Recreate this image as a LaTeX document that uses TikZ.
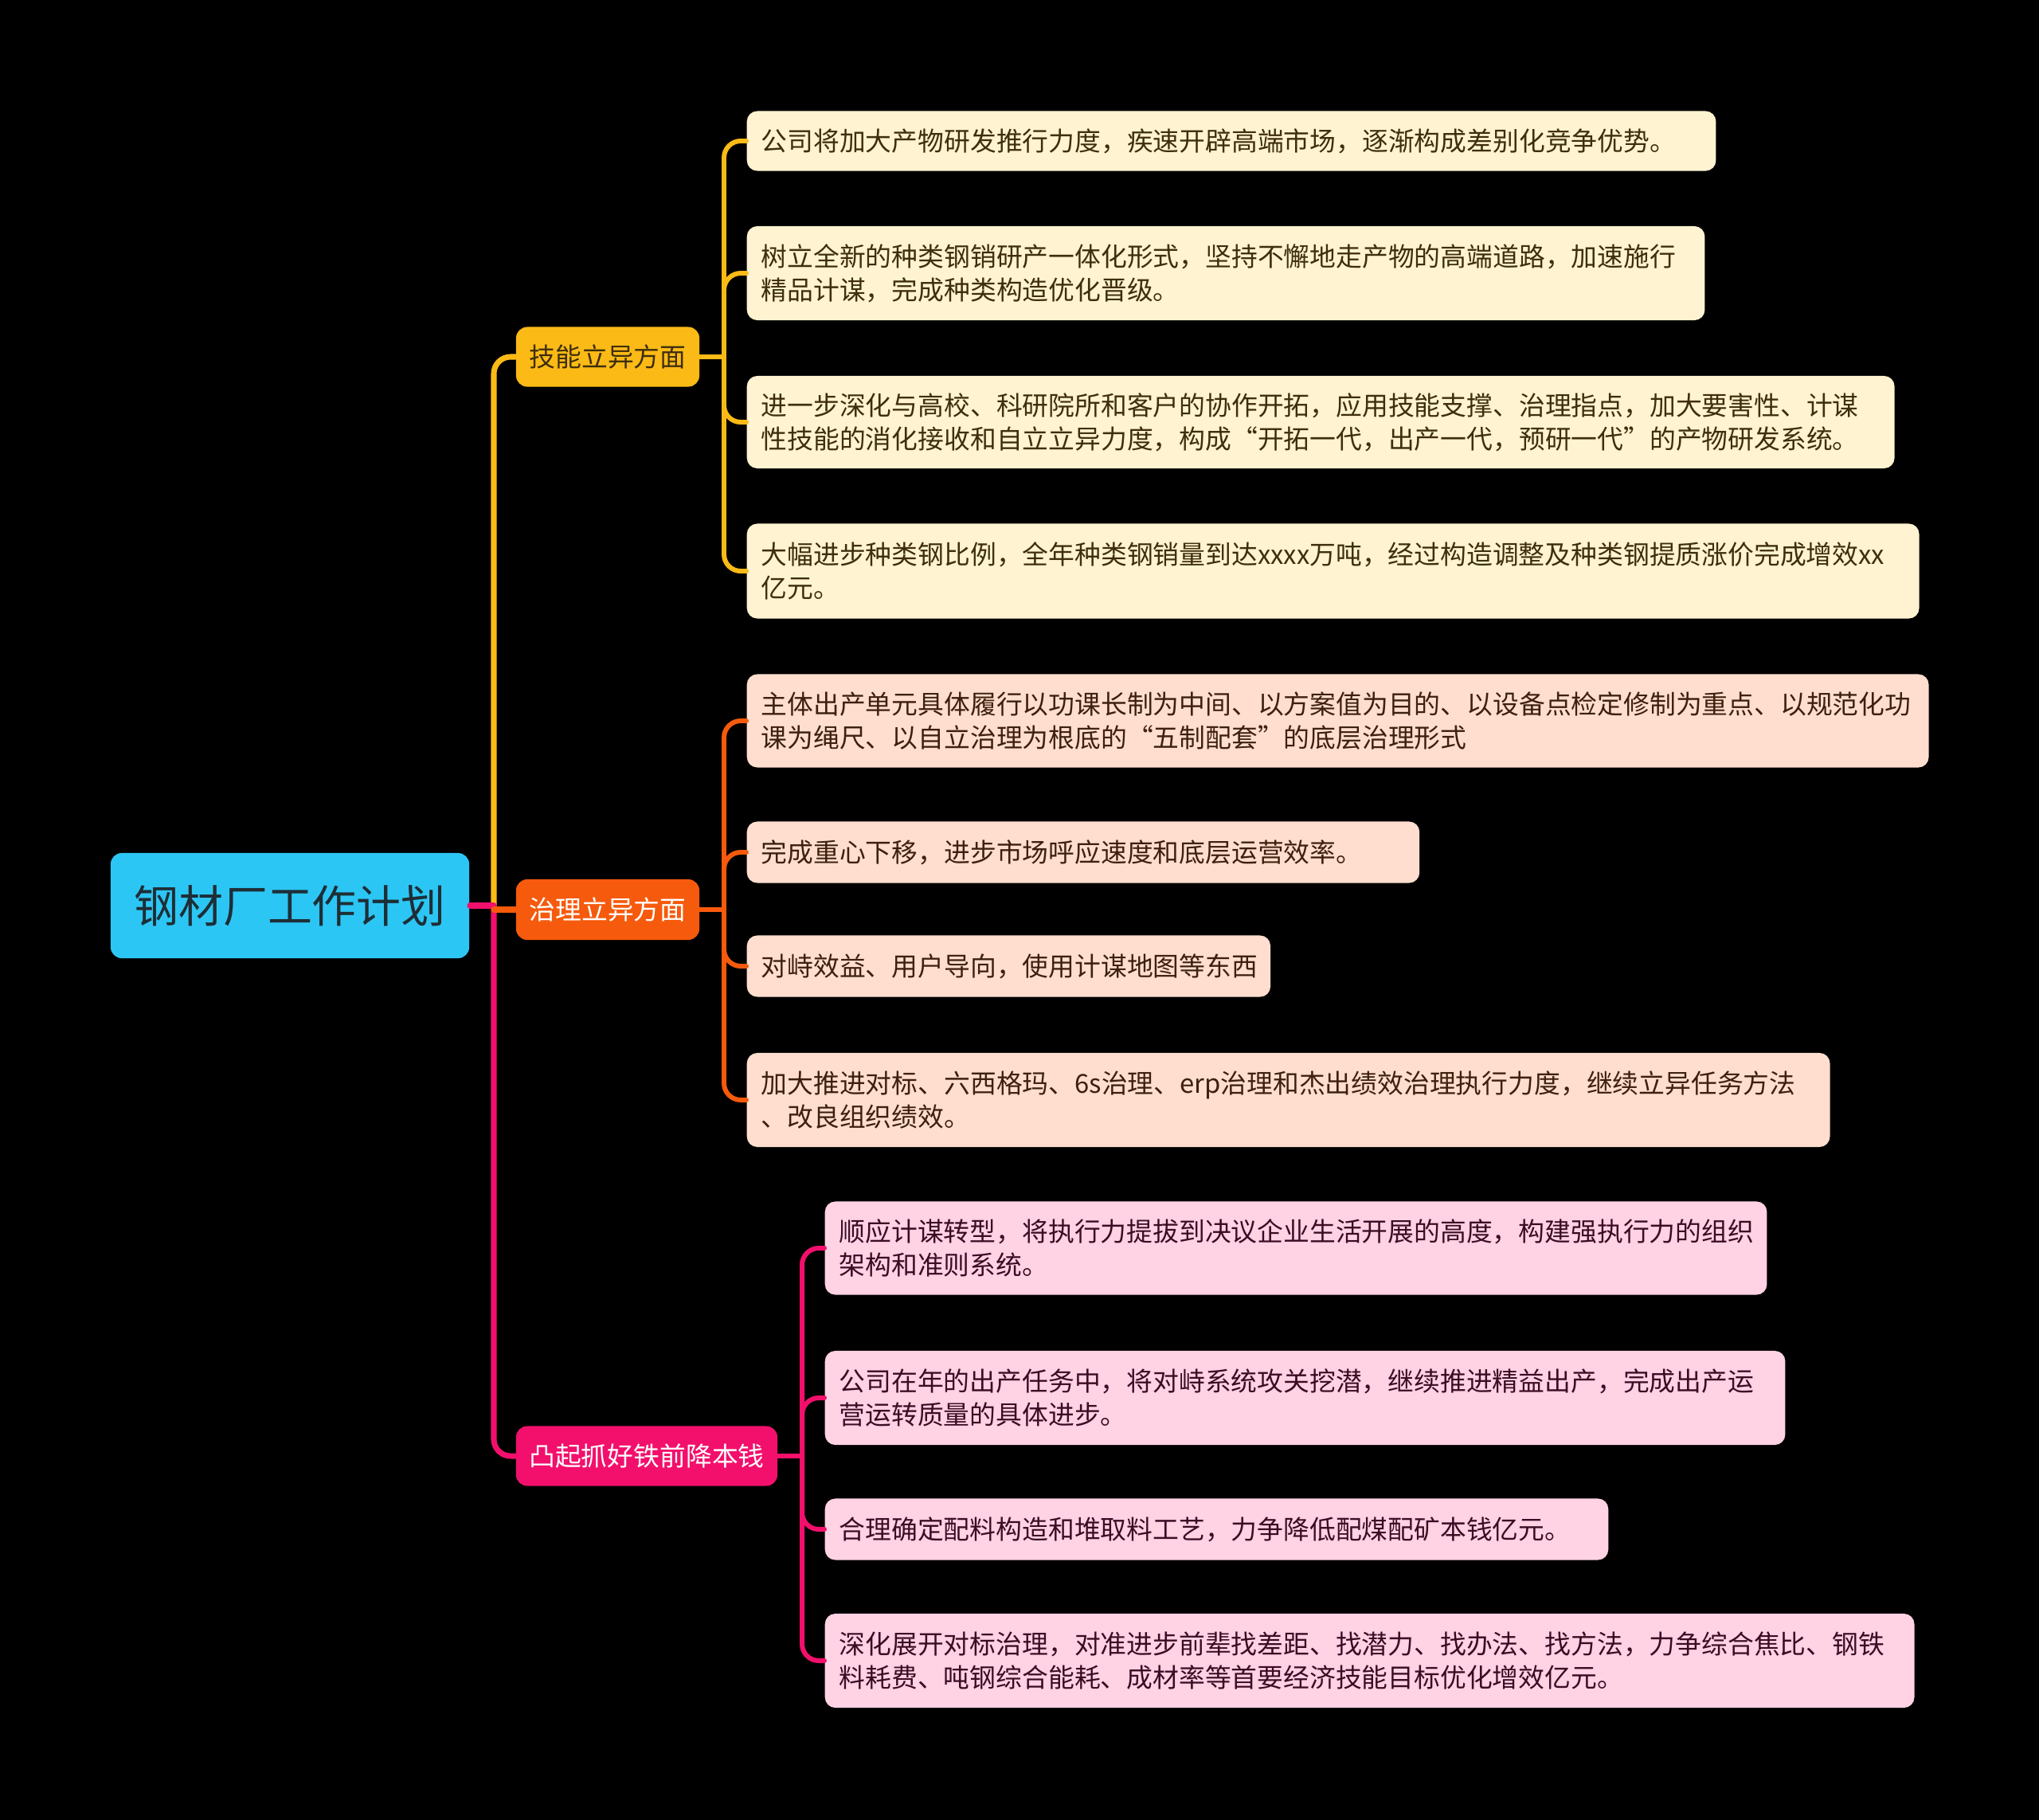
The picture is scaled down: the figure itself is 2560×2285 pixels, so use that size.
\documentclass[tikz,border=0pt]{standalone}
\usepackage{fontspec}
\setmainfont{Noto Sans CJK SC}
\definecolor{rootc}{HTML}{2CC6F4}
\definecolor{roottxt}{HTML}{1E2E36}
\definecolor{yc}{HTML}{FBBA16}
\definecolor{oc}{HTML}{F65A0C}
\definecolor{pc}{HTML}{F2106C}
\definecolor{ly}{HTML}{FFF3D1}
\definecolor{lo}{HTML}{FFDECF}
\definecolor{lp}{HTML}{FFD2E4}
\definecolor{ty}{HTML}{3E2E0C}
\definecolor{to}{HTML}{3E200E}
\definecolor{tp}{HTML}{3C0C24}
\begin{document}
\begin{tikzpicture}[x=0.01cm,y=-0.01cm,
  txt/.style={font=\fontsize{9.33pt}{11.95pt}\selectfont},
  rootbox/.style={fill=rootc,rounded corners=0.14cm,text=roottxt,minimum width=4.50cm,minimum height=1.32cm,inner sep=0pt,font=\fontsize{15.9pt}{18pt}\selectfont},
  branchbox/.style={rounded corners=0.14cm,minimum height=0.75cm,inner sep=0pt,txt},
  leafbox/.style={rounded corners=0.13cm,anchor=west,inner xsep=0.18cm,inner ysep=0pt,align=left,txt},
  ly1/.style={leafbox,fill=ly,text=ty},
  lo1/.style={leafbox,fill=lo,text=to},
  lp1/.style={leafbox,fill=lp,text=tp},
  mainline/.style={line width=2.0pt,line cap=round},
  brline/.style={line width=1.7pt,line cap=round},
  rc/.style={rounded corners=0.21cm}
]
\fill[black] (0,0) rectangle (2560,2285);
\useasboundingbox (0,0) rectangle (2560,2285);

% root and branches
\node[rootbox] (root) at (364,1137) {钢材厂工作计划};
\node[branchbox,fill=yc,text=ty,minimum width=2.30cm] (b1) at (763,448) {技能立异方面};
\node[branchbox,fill=oc,text=white,minimum width=2.30cm,minimum height=0.76cm] (b2) at (763,1142) {治理立异方面};
\node[branchbox,fill=pc,text=white,minimum width=3.28cm] (b3) at (812,1828) {凸起抓好铁前降本钱};

% leaves group 1
\node[ly1,text width=11.80cm,minimum height=0.75cm] (l1) at (937,177) {公司将加大产物研发推行力度，疾速开辟高端市场，逐渐构成差别化竞争优势。};
\node[ly1,text width=11.66cm,minimum height=1.18cm] (l2) at (937,343) {树立全新的种类钢销研产一体化形式，坚持不懈地走产物的高端道路，加速施行\\精品计谋，完成种类构造优化晋级。};
\node[ly1,text width=14.04cm,minimum height=1.16cm] (l3) at (937,530) {进一步深化与高校、科研院所和客户的协作开拓，应用技能支撑、治理指点，加大要害性、计谋\\性技能的消化接收和自立立异力度，构成“开拓一代，出产一代，预研一代”的产物研发系统。};
\node[ly1,text width=14.35cm,minimum height=1.19cm] (l4) at (937,717) {大幅进步种类钢比例，全年种类钢销量到达xxxx万吨，经过构造调整及种类钢提质涨价完成增效xx\\亿元。};

% leaves group 2
\node[lo1,text width=14.47cm,minimum height=1.17cm] (l5) at (937,905) {主体出产单元具体履行以功课长制为中间、以方案值为目的、以设备点检定修制为重点、以规范化功\\课为绳尺、以自立治理为根底的“五制配套”的底层治理形式};
\node[lo1,text width=8.08cm,minimum height=0.77cm] (l6) at (937,1070) {完成重心下移，进步市场呼应速度和底层运营效率。};
\node[lo1,text width=6.21cm,minimum height=0.77cm] (l7) at (937,1213) {对峙效益、用户导向，使用计谋地图等东西};
\node[lo1,text width=13.23cm,minimum height=1.18cm] (l8) at (937,1381) {加大推进对标、六西格玛、6s治理、erp治理和杰出绩效治理执行力度，继续立异任务方法\\、改良组织绩效。};

% leaves group 3
\node[lp1,text width=11.46cm,minimum height=1.17cm] (l9) at (1035,1567) {顺应计谋转型，将执行力提拔到决议企业生活开展的高度，构建强执行力的组织\\架构和准则系统。};
\node[lp1,text width=11.69cm,minimum height=1.18cm] (l10) at (1035,1755) {公司在年的出产任务中，将对峙系统攻关挖潜，继续推进精益出产，完成出产运\\营运转质量的具体进步。};
\node[lp1,text width=9.47cm,minimum height=0.77cm] (l11) at (1035,1920) {合理确定配料构造和堆取料工艺，力争降低配煤配矿本钱亿元。};
\node[lp1,text width=13.31cm,minimum height=1.18cm] (l12) at (1035,2085) {深化展开对标治理，对准进步前辈找差距、找潜力、找办法、找方法，力争综合焦比、钢铁\\料耗费、吨钢综合能耗、成材率等首要经济技能目标优化增效亿元。};

% main trunk
\coordinate (trunk) at (620,1137);
\draw[mainline,draw=yc,rc] (trunk) |- (b1.west);
\draw[mainline,draw=pc,rc] (trunk) |- (b3.west);
\draw[mainline,draw=pc] (root.east) -- (trunk);
\draw[mainline,draw=oc] (trunk|-b2.west) -- (b2.west);

% brackets
\coordinate (j1) at (909,448);
\coordinate (j2) at (909,1142);
\coordinate (j3) at (1007,1828);
\draw[brline,draw=yc] (b1.east) -- (j1);
\foreach \n in {l1,l2,l3,l4} \draw[brline,draw=yc,rc] (j1) |- (\n.west);
\draw[brline,draw=oc] (b2.east) -- (j2);
\foreach \n in {l5,l6,l7,l8} \draw[brline,draw=oc,rc] (j2) |- (\n.west);
\draw[brline,draw=pc] (b3.east) -- (j3);
\foreach \n in {l9,l10,l11,l12} \draw[brline,draw=pc,rc] (j3) |- (\n.west);
\end{tikzpicture}
\end{document}
